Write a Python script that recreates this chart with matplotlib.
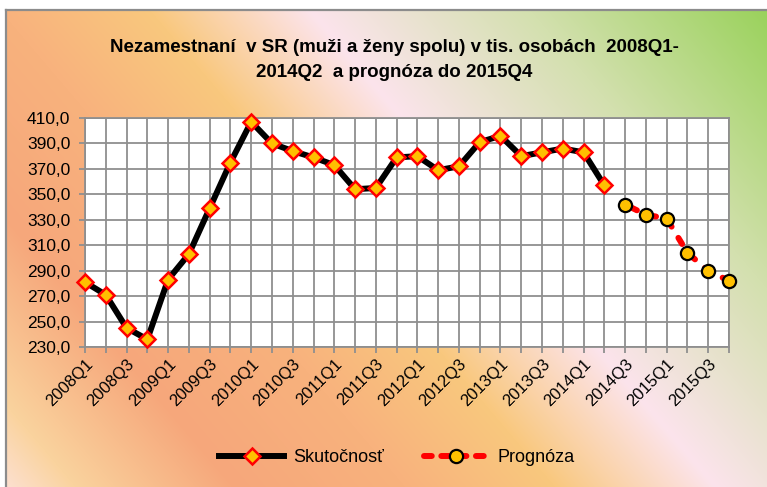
import numpy as np
import matplotlib
matplotlib.use('Agg')
import matplotlib.pyplot as plt
from matplotlib.lines import Line2D

# ---------------- data ----------------
categories = ['2008Q1', '2008Q2', '2008Q3', '2008Q4',
              '2009Q1', '2009Q2', '2009Q3', '2009Q4',
              '2010Q1', '2010Q2', '2010Q3', '2010Q4',
              '2011Q1', '2011Q2', '2011Q3', '2011Q4',
              '2012Q1', '2012Q2', '2012Q3', '2012Q4',
              '2013Q1', '2013Q2', '2013Q3', '2013Q4',
              '2014Q1', '2014Q2', '2014Q3', '2014Q4',
              '2015Q1', '2015Q2', '2015Q3', '2015Q4']
actual = [281, 271, 245, 236, 283, 303, 339, 375,
          407, 390, 384, 379, 373, 354, 355, 379,
          380, 369, 372, 391, 396, 380, 383, 386,
          383, 357]
forecast = [342, 334, 331, 304, 290, 282]
y_ticks = [230, 250, 270, 290, 310, 330, 350, 370, 390, 410]
y_labels = ['230,0', '250,0', '270,0', '290,0', '310,0', '330,0',
            '350,0', '370,0', '390,0', '410,0']
title = ("Nezamestnaní  v SR (muži a ženy spolu) v tis. osobách  2008Q1-\n"
         "2014Q2  a prognóza do 2015Q4")
series_names = ['Skutočnosť', 'Prognóza']

plt.rcParams['font.family'] = ['Liberation Sans', 'DejaVu Sans']

W, H = 767, 487
fig = plt.figure(figsize=(W / 100, H / 100), dpi=100)
fig.patch.set_facecolor('white')

# ---------------- gradient background ----------------
bg = fig.add_axes([0, 0, 1, 1], zorder=-5)
yy, xx = np.mgrid[0:H, 0:W]
t = xx - 0.85 * (yy - 10)
stops = [-420, -330, -170, 0, 150, 310, 530, 800]
cols = np.array([[253, 228, 223], [250, 211, 158], [246, 167, 123],
                 [248, 178, 125], [249, 200, 126], [252, 228, 236],
                 [211, 224, 174], [146, 208, 80]]) / 255.0
img = np.stack([np.interp(t, stops, cols[:, k]) for k in range(3)], axis=-1)
img[:9, :, :] = 1.0
img[:, :5, :] = 1.0
bg.imshow(img, extent=(0, W, H, 0), aspect='auto', interpolation='bilinear')
bg.plot([5.5, W], [9.5, 9.5], color='#8c8c8c', lw=1.6)
bg.plot([5.5, 5.5], [9.5, H], color='#8c8c8c', lw=1.6)
bg.set_xlim(0, W)
bg.set_ylim(H, 0)
bg.axis('off')

# ---------------- main plot ----------------
left, right, top, bottom = 85, 729, 118, 347
ax = fig.add_axes([left / W, 1 - bottom / H, (right - left) / W, (bottom - top) / H])
ax.set_facecolor('white')

x = np.arange(len(categories))
n_act = len(actual)
dash = (2.4, (1.2, 2.2))

ax.plot(x[:n_act], actual, color='black', lw=4.3, solid_joinstyle='round',
        marker='D', markersize=8.5, markerfacecolor='#FFC000',
        markeredgecolor='#FF0000', markeredgewidth=1.8, clip_on=False, zorder=5)
ax.plot(x[n_act:], forecast, color='#FF0000', lw=4.3,
        linestyle=dash, dash_capstyle='round',
        marker='o', markersize=9.5, markerfacecolor='#FFC000',
        markeredgecolor='black', markeredgewidth=1.6, clip_on=False, zorder=5)

ax.set_xlim(0, len(categories) - 1)
ax.set_ylim(y_ticks[0], y_ticks[-1])
ax.set_xticks(x)
ax.set_xticklabels([c if i % 2 == 0 else '' for i, c in enumerate(categories)],
                   rotation=45, ha='right', va='top', rotation_mode='anchor',
                   fontsize=12)
ax.set_yticks(y_ticks)
ax.set_yticklabels(y_labels, fontsize=12.5)
ax.grid(True, color='#8f8f8f', lw=1.3)
ax.set_axisbelow(True)
ax.tick_params(axis='both', color='#8f8f8f', width=1.3, length=4.5)
ax.tick_params(axis='y', pad=6)
ax.tick_params(axis='x', pad=2)
for s in ax.spines.values():
    s.set_color('#8f8f8f')
    s.set_linewidth(1.3)

fig.text(394 / W, 1 - 60 / H, title, ha='center', va='center',
         fontsize=13.5, fontweight='bold', linespacing=1.55)

handles = [
    Line2D([], [], color='black', lw=4.3, marker='D', markersize=8.5,
           markerfacecolor='#FFC000', markeredgecolor='#FF0000', markeredgewidth=1.8),
    Line2D([], [], color='#FF0000', lw=4.3, linestyle=(0, (1.3, 1.6)),
           dash_capstyle='round', marker='o', markersize=9.5,
           markerfacecolor='#FFC000', markeredgecolor='black', markeredgewidth=1.6),
]
fig.legend(handles, series_names, loc='center', bbox_to_anchor=(397 / W, 1 - 458 / H),
           ncol=2, frameon=False, fontsize=13, handlelength=3.6,
           columnspacing=2.2, handletextpad=0.5, markerscale=1.0)

fig.savefig('out.png', dpi=100)
